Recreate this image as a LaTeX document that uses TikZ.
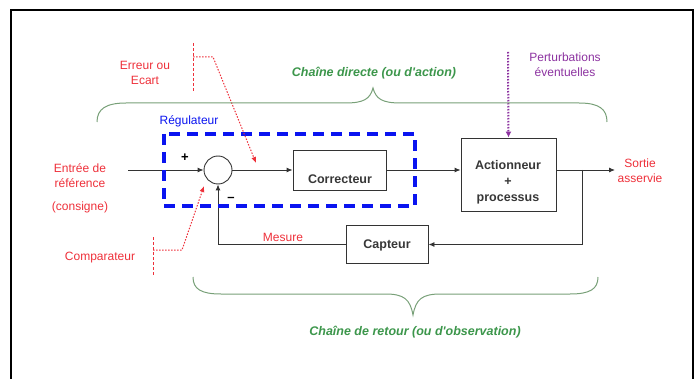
\documentclass[tikz,border=0pt]{standalone}
\usepackage{fontspec}
\setmainfont{Liberation Sans}
\usetikzlibrary{arrows.meta}
\definecolor{myred}{RGB}{238,48,58}
\definecolor{mygreen}{RGB}{60,150,75}
\definecolor{bracegreen}{RGB}{120,160,120}
\definecolor{mypurple}{RGB}{140,50,160}
\definecolor{myblue}{RGB}{10,20,240}
\definecolor{boxtext}{RGB}{55,55,55}
\tikzset{
  blk/.style={draw=black!80, line width=0.9pt, rectangle, inner sep=0pt},
  boxtxt/.style={font=\fontsize{12.5}{15}\selectfont\bfseries, text=boxtext, align=center, inner sep=0pt},
  redtxt/.style={font=\fontsize{12}{15}\selectfont, text=myred, align=center, inner sep=0pt},
  greentxt/.style={font=\fontsize{12.5}{15}\selectfont\bfseries\itshape, text=mygreen, inner sep=0pt},
  sig/.style={draw=black!80, line width=0.9pt, -{Latex[length=6pt,width=5pt]}},
  reddash/.style={draw=myred, line width=1pt, dash pattern=on 3pt off 2pt},
  reddot/.style={draw=myred, line width=1pt, dash pattern=on 1.5pt off 1.5pt},
  brace/.style={draw=bracegreen, line width=1pt},
}
\newcommand{\sq}{\textquotesingle}
\begin{document}
\begin{tikzpicture}[x=1pt,y=-1pt]
\useasboundingbox (0,0) rectangle (700,379);
% frame
\draw[line width=1.3pt] (11,380) -- (11,10) -- (693,10) -- (693,380);

% blocks
\node[blk, circle, minimum size=28pt] (sum) at (218,170) {};
\node[blk, minimum width=93pt, minimum height=40pt] (corr) at (339.5,170) {};
\node[boxtxt] (corrt) at (340,179) {Correcteur};
\node[blk, minimum width=95pt, minimum height=73pt] (act) at (508.5,174.5) {};
\node[boxtxt, font=\fontsize{12.5}{16}\selectfont\bfseries] (actt) at (508,182) {Actionneur\\+\\processus};
\node[blk, minimum width=82pt, minimum height=38pt] (capt) at (387,244.5) {};
\node[boxtxt] (captt) at (387,245) {Capteur};

% coordinates
\coordinate (in) at (128,170);
\coordinate (out) at (615,170);
\coordinate (br) at (582,170);
\coordinate (brd) at (582,244.5);
\coordinate (fbc) at (218,244.5);

% signals
\draw[sig] (in) -- (sum.west);
\draw[sig] (sum.east) -- (corr.west);
\draw[sig] (corr.east) -- (act.west |- corr.east);
\draw[sig] (act.east |- out) -- (out);
\draw[sig] (br) -- (brd) -- (capt.east);
\draw[sig] (capt.west) -- (fbc) -- (sum.south);

\node[font=\fontsize{13}{13}\selectfont\bfseries] (plus) at (185,158) {+};
\node[font=\fontsize{13}{13}\selectfont\bfseries] (minus) at (231,199) {\textendash};

% regulator
\draw[myblue, line width=3.5pt, dash pattern=on 11pt off 7pt] (164,134) rectangle (415,206);
\node[font=\fontsize{12}{15}\selectfont, text=myblue, inner sep=0pt] (reg) at (189,121) {Régulateur};

% labels
\node[redtxt] (entree) at (80,176) {Entrée de\\référence};
\node[redtxt] (consigne) at (80,207) {(consigne)};
\node[redtxt] (sortie) at (640,171) {Sortie\\asservie};
\node[redtxt] (mesure) at (283,237) {Mesure};
\node[redtxt] (erreur) at (145,73) {Erreur ou\\Ecart};
\node[redtxt] (comp) at (100,258) {Comparateur};
\node[font=\fontsize{12}{15}\selectfont, text=mypurple, align=center, inner sep=0pt] (pert) at (565,65) {Perturbations\\éventuelles};

% erreur pointer
\coordinate (e1) at (193,43);
\coordinate (e2) at (193,92);
\coordinate (e3) at (193,57);
\coordinate (e4) at (213,57);
\coordinate (e5) at (256,163);
\draw[reddash] (e1) -- (e2);
\draw[reddot, -{Latex[length=6pt,width=5pt]}] (e3) -- (e4) -- (e5);

% comparateur pointer
\coordinate (c1) at (153,237);
\coordinate (c2) at (153,275);
\coordinate (c3) at (153,250);
\coordinate (c4) at (182,250);
\coordinate (c5) at (204,186);
\draw[reddash] (c1) -- (c2);
\draw[reddot, -{Latex[length=6pt,width=5pt]}] (c3) -- (c4) -- (c5);

% perturbations
\coordinate (p1) at (508,52);
\draw[mypurple, line width=2pt, dash pattern=on 1.5pt off 1.5pt, -{Latex[length=6pt,width=6pt]}] (p1) -- (act.north);

% braces
\draw[brace] (97,122) .. controls (97,109) and (106,103) .. (126,103) -- (345,103)
  .. controls (364,103) and (370,99) .. (373,88)
  .. controls (376,99) and (382,103) .. (401,103) -- (579,103)
  .. controls (599,103) and (607,109) .. (607,122);
\node[greentxt] (direct) at (374,73) {Chaîne directe (ou d\sq action)};

\draw[brace] (193,277) .. controls (193,289) and (201,294) .. (221,294) -- (385,294)
  .. controls (404,294) and (410,299) .. (413,315)
  .. controls (416,299) and (422,294) .. (441,294) -- (570,294)
  .. controls (590,294) and (598,289) .. (598,277);
\node[greentxt] (retour) at (415,332) {Chaîne de retour (ou d\sq observation)};
\end{tikzpicture}
\end{document}
